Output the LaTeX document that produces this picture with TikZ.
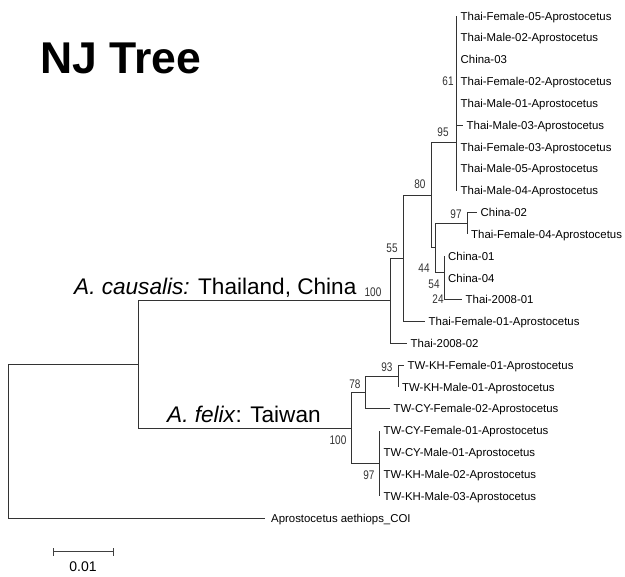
\documentclass[tikz,border=0pt]{standalone}
\usepackage{fontspec}
\setmainfont{Liberation Sans}
\usepackage{graphicx}
\newcommand{\bsv}[1]{\scalebox{0.8}[1]{#1}}
\begin{document}
\begin{tikzpicture}[x=1pt,y=-1pt,
  br/.style={draw=black!80, line width=0.9pt},
  leaf/.style={anchor=base west, inner sep=0pt, font=\fontsize{11.4}{11.4}\selectfont},
  boot/.style={anchor=center, inner sep=0pt, text=black!80, font=\fontsize{12.5}{12.5}\selectfont},
  clade/.style={anchor=base west, inner sep=0pt, font=\fontsize{22.6}{22.6}\selectfont}]
\useasboundingbox (0,0) rectangle (625,577);
% tree nodes
\coordinate (root) at (8,441.3);
\coordinate (ing) at (138,364.5);
\coordinate (cau) at (390,300.9);
\coordinate (fel) at (351,428);
\coordinate (n55) at (403,258.3);
\coordinate (n80) at (431,195);
\coordinate (n95) at (456,142);
\coordinate (n44) at (435,247.9);
\coordinate (n97) at (467,223.4);
\coordinate (n54) at (444,272.5);
\coordinate (n78) at (365,392.6);
\coordinate (n93) at (398,376.2);
\coordinate (n97b) at (379,463.5);
% leaf branch ends
\coordinate (l1) at (456,16.0);
\coordinate (l2) at (456,37.8);
\coordinate (l3) at (456,59.7);
\coordinate (l4) at (456,81.5);
\coordinate (l5) at (456,103.3);
\coordinate (l6) at (463,125.2);
\coordinate (l7) at (456,147.0);
\coordinate (l8) at (456,168.8);
\coordinate (l9) at (456,190.6);
\coordinate (l10) at (477,212.5);
\coordinate (l11) at (467,234.3);
\coordinate (l12) at (444,256.1);
\coordinate (l13) at (444,278.0);
\coordinate (l14) at (462,299.8);
\coordinate (l15) at (425,321.6);
\coordinate (l16) at (407,343.5);
\coordinate (l17) at (404,365.3);
\coordinate (l18) at (398,387.1);
\coordinate (l19) at (390,408.9);
\coordinate (l20) at (379,430.8);
\coordinate (l21) at (379,452.6);
\coordinate (l22) at (379,474.4);
\coordinate (l23) at (379,496.3);
\coordinate (l24) at (265,518.1);
% branches
\draw[br] (root) |- (ing);
\draw[br] (root) |- (l24);
\draw[br] (ing) |- (cau);
\draw[br] (ing) |- (fel);
\draw[br] (cau) |- (n55);
\draw[br] (cau) |- (l16);
\draw[br] (n55) |- (n80);
\draw[br] (n55) |- (l15);
\draw[br] (n80) |- (n95);
\draw[br] (n80) |- (n44);
\foreach \i in {1,...,9} {\draw[br] (n95) |- (l\i);}
\draw[br] (n44) |- (n97);
\draw[br] (n44) |- (n54);
\draw[br] (n97) |- (l10);
\draw[br] (n97) |- (l11);
\draw[br] (n54) |- (l12);
\draw[br] (n54) |- (l13);
\draw[br] (n54) |- (l14);
\draw[br] (fel) |- (n78);
\draw[br] (fel) |- (n97b);
\draw[br] (n78) |- (n93);
\draw[br] (n78) |- (l19);
\draw[br] (n93) |- (l17);
\draw[br] (n93) |- (l18);
\foreach \i in {20,...,23} {\draw[br] (n97b) |- (l\i);}
% leaf labels
\node[leaf] (t1) at ([xshift=4.5pt,yshift=-4.1pt]l1) {Thai-Female-05-Aprostocetus};
\node[leaf] (t2) at ([xshift=4.5pt,yshift=-4.1pt]l2) {Thai-Male-02-Aprostocetus};
\node[leaf] (t3) at ([xshift=4.5pt,yshift=-4.1pt]l3) {China-03};
\node[leaf] (t4) at ([xshift=4.5pt,yshift=-4.1pt]l4) {Thai-Female-02-Aprostocetus};
\node[leaf] (t5) at ([xshift=4.5pt,yshift=-4.1pt]l5) {Thai-Male-01-Aprostocetus};
\node[leaf] (t6) at ([xshift=3.5pt,yshift=-4.1pt]l6) {Thai-Male-03-Aprostocetus};
\node[leaf] (t7) at ([xshift=4.5pt,yshift=-4.1pt]l7) {Thai-Female-03-Aprostocetus};
\node[leaf] (t8) at ([xshift=4.5pt,yshift=-4.1pt]l8) {Thai-Male-05-Aprostocetus};
\node[leaf] (t9) at ([xshift=4.5pt,yshift=-4.1pt]l9) {Thai-Male-04-Aprostocetus};
\node[leaf] (t10) at ([xshift=3.5pt,yshift=-4.1pt]l10) {China-02};
\node[leaf] (t11) at ([xshift=4pt,yshift=-4.1pt]l11) {Thai-Female-04-Aprostocetus};
\node[leaf] (t12) at ([xshift=4pt,yshift=-4.1pt]l12) {China-01};
\node[leaf] (t13) at ([xshift=4pt,yshift=-4.1pt]l13) {China-04};
\node[leaf] (t14) at ([xshift=3.5pt,yshift=-4.1pt]l14) {Thai-2008-01};
\node[leaf] (t15) at ([xshift=3.5pt,yshift=-4.1pt]l15) {Thai-Female-01-Aprostocetus};
\node[leaf] (t16) at ([xshift=3.5pt,yshift=-4.1pt]l16) {Thai-2008-02};
\node[leaf] (t17) at ([xshift=3.5pt,yshift=-4.1pt]l17) {TW-KH-Female-01-Aprostocetus};
\node[leaf] (t18) at ([xshift=4pt,yshift=-4.1pt]l18) {TW-KH-Male-01-Aprostocetus};
\node[leaf] (t19) at ([xshift=3.5pt,yshift=-4.1pt]l19) {TW-CY-Female-02-Aprostocetus};
\node[leaf] (t20) at ([xshift=4.5pt,yshift=-4.1pt]l20) {TW-CY-Female-01-Aprostocetus};
\node[leaf] (t21) at ([xshift=4.5pt,yshift=-4.1pt]l21) {TW-CY-Male-01-Aprostocetus};
\node[leaf] (t22) at ([xshift=4.5pt,yshift=-4.1pt]l22) {TW-KH-Male-02-Aprostocetus};
\node[leaf] (t23) at ([xshift=4.5pt,yshift=-4.1pt]l23) {TW-KH-Male-03-Aprostocetus};
\node[leaf] (t24) at ([xshift=6pt,yshift=-4.1pt]l24) {Aprostocetus aethiops\_COI};
% bootstrap values
\node[boot] (b61) at (448,81) {\bsv{61}};
\node[boot] (b95) at (443,132) {\bsv{95}};
\node[boot] (b80) at (420,184) {\bsv{80}};
\node[boot] (b97) at (456,214) {\bsv{97}};
\node[boot] (b44) at (424,268) {\bsv{44}};
\node[boot] (b54) at (434,284) {\bsv{54}};
\node[boot] (b24) at (438,299) {\bsv{24}};
\node[boot] (b55) at (392,248) {\bsv{55}};
\node[boot] (b100a) at (373,292) {\bsv{100}};
\node[boot] (b93) at (387,367) {\bsv{93}};
\node[boot] (b78) at (355,384) {\bsv{78}};
\node[boot] (b100b) at (338,440) {\bsv{100}};
\node[boot] (b97b) at (369,475) {\bsv{97}};
% clade labels
\node[clade] (cauLab) at (74,295) {\textit{A. causalis:} Thailand, China};
\node[clade] (felLab) at (167,423) {\textit{A. felix}: Taiwan};
% title
\node[anchor=base west, inner sep=0pt, font=\fontsize{44.5}{44.5}\selectfont\bfseries] (title) at (40,74) {NJ Tree};
% scale bar
\coordinate (sb1) at (53,552);
\coordinate (sb2) at (113,552);
\draw[draw=black!75, line width=1pt] (sb1) -- (sb2);
\draw[draw=black!75, line width=1pt] ([yshift=-4pt]sb1) -- ([yshift=4pt]sb1);
\draw[draw=black!75, line width=1pt] ([yshift=-4pt]sb2) -- ([yshift=4pt]sb2);
\node[anchor=base, inner sep=0pt, font=\fontsize{14}{14}\selectfont] (sbl) at (83,572) {0.01};
\end{tikzpicture}
\end{document}
